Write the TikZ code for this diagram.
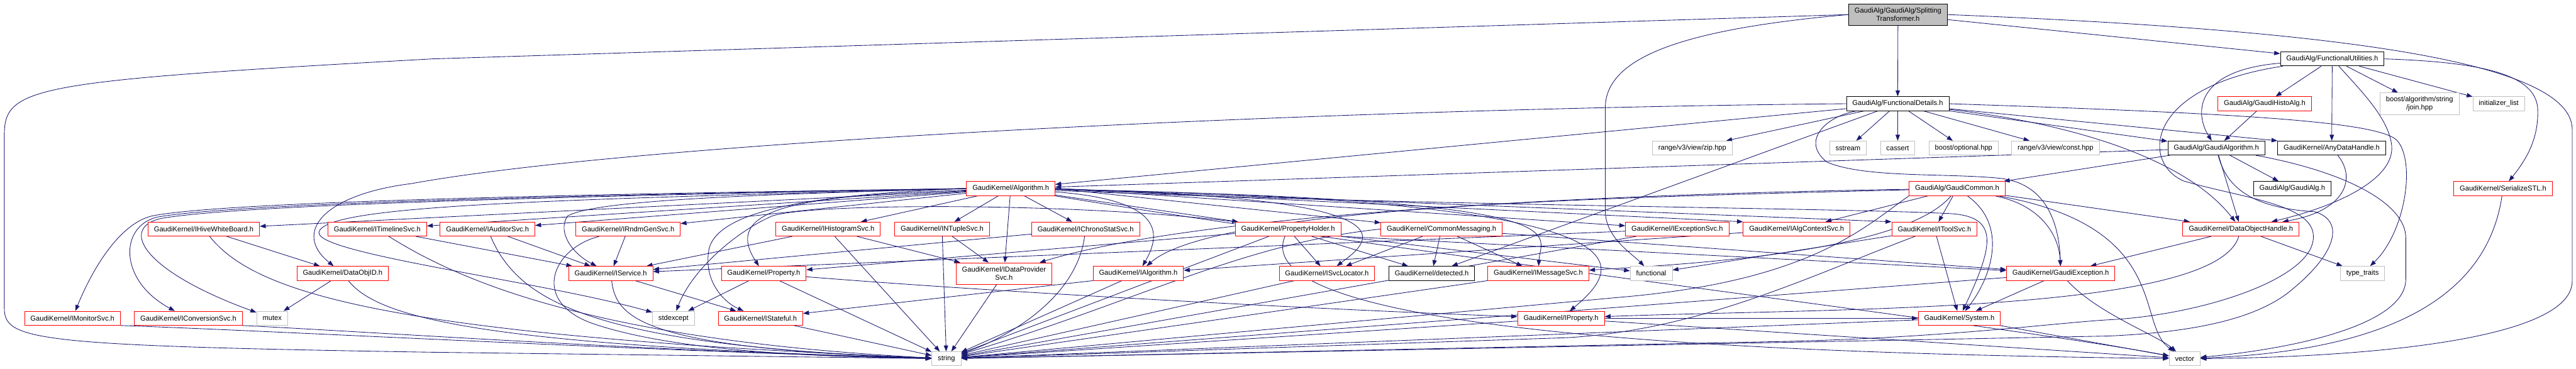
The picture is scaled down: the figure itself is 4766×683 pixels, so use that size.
\documentclass[tikz,border=0pt]{standalone}
\usepackage{fontspec}
\setmainfont{Liberation Sans}
\usepackage{xcolor}
\usepackage{tikz}
\usetikzlibrary{arrows.meta,backgrounds}

\definecolor{edgeblue}{HTML}{191970}
\definecolor{lightgrey}{HTML}{BFBFBF}

\begin{document}
\begin{tikzpicture}[
    x=1pt,
    y=-1pt,
    file/.style={
        rectangle,
        draw=red,
        fill=white,
        line width=1pt,
        inner xsep=11pt,
        inner ysep=0pt,
        minimum height=26pt,
        align=center,
        font=\fontsize{13}{15}\selectfont
    },
    sysfile/.style={file, draw=lightgrey},
    donefile/.style={file, draw=black},
    twoline/.style={minimum height=40pt},
    incl/.style={
        draw=edgeblue,
        line width=1pt,
        -{Triangle[length=11pt,width=8pt]}
    }
]
    \useasboundingbox (0,0) rectangle (4766,683);

    \node[donefile, twoline, fill=lightgrey] (st) at (3511.5,27) {GaudiAlg/GaudiAlg/Splitting\\Transformer.h};
    \node[donefile] (fu) at (4315,109) {GaudiAlg/FunctionalUtilities.h};
    \node[donefile] (fd) at (3511,192) {GaudiAlg/FunctionalDetails.h};
    \node[file] (histoalg) at (4190,192) {GaudiAlg/GaudiHistoAlg.h};
    \node[sysfile, twoline] (join) at (4476.5,192) {boost/algorithm/string\\/join.hpp};
    \node[sysfile] (initlist) at (4623,192) {initializer\_list};
    \node[sysfile] (zip) at (3131,274) {range/v3/view/zip.hpp};
    \node[sysfile] (sstream) at (3419,274) {sstream};
    \node[sysfile] (cassert) at (3511,274) {cassert};
    \node[sysfile] (optional) at (3633,274) {boost/optional.hpp};
    \node[sysfile] (constv) at (3803,274) {range/v3/view/const.hpp};
    \node[donefile] (gaudialgo) at (4100.5,274) {GaudiAlg/GaudiAlgorithm.h};
    \node[donefile] (anydh) at (4314,274) {GaudiKernel/AnyDataHandle.h};
    \node[file] (algorithm) at (1870,349) {GaudiKernel/Algorithm.h};
    \node[file] (common) at (3621,349) {GaudiAlg/GaudiCommon.h};
    \node[donefile] (gaudialg) at (4241,349) {GaudiAlg/GaudiAlg.h};
    \node[file] (serialize) at (4631,349) {GaudiKernel/SerializeSTL.h};
    \node[file] (hive) at (377,424) {GaudiKernel/IHiveWhiteBoard.h};
    \node[file] (timeline) at (698,424) {GaudiKernel/ITimelineSvc.h};
    \node[file] (auditor) at (902,424) {GaudiKernel/IAuditorSvc.h};
    \node[file] (rndm) at (1162,424) {GaudiKernel/IRndmGenSvc.h};
    \node[file] (histo) at (1532,424) {GaudiKernel/IHistogramSvc.h};
    \node[file] (ntuple) at (1743,424) {GaudiKernel/INTupleSvc.h};
    \node[file] (chrono) at (2008.5,424) {GaudiKernel/IChronoStatSvc.h};
    \node[file] (propholder) at (2383,424) {GaudiKernel/PropertyHolder.h};
    \node[file] (commonmsg) at (2667,424) {GaudiKernel/CommonMessaging.h};
    \node[file] (exception) at (3103,424) {GaudiKernel/IExceptionSvc.h};
    \node[file] (algctx) at (3324,424) {GaudiKernel/IAlgContextSvc.h};
    \node[file] (toolsvc) at (3579,424) {GaudiKernel/IToolSvc.h};
    \node[file] (dohandle) at (4146,424) {GaudiKernel/DataObjectHandle.h};
    \node[file] (dataobjid) at (634,506) {GaudiKernel/DataObjID.h};
    \node[file] (service) at (1130,506) {GaudiKernel/IService.h};
    \node[file] (property) at (1413,506) {GaudiKernel/Property.h};
    \node[file, twoline] (dataprov) at (1857.5,506.5) {GaudiKernel/IDataProvider\\Svc.h};
    \node[file] (ialgorithm) at (2106,506) {GaudiKernel/IAlgorithm.h};
    \node[file] (svcloc) at (2455,506) {GaudiKernel/ISvcLocator.h};
    \node[donefile] (detected) at (2649,506) {GaudiKernel/detected.h};
    \node[file] (msgsvc) at (2846,506) {GaudiKernel/IMessageSvc.h};
    \node[sysfile] (functional) at (3055,506) {functional};
    \node[file] (gexception) at (3812.6,506) {GaudiKernel/GaudiException.h};
    \node[sysfile] (typetraits) at (4371,506) {type\_traits};
    \node[file] (monitor) at (134,589) {GaudiKernel/IMonitorSvc.h};
    \node[file] (conversion) at (348.5,589) {GaudiKernel/IConversionSvc.h};
    \node[sysfile] (mutex) at (503.5,589) {mutex};
    \node[sysfile] (stdexcept) at (1246,589) {stdexcept};
    \node[file] (stateful) at (1407,589) {GaudiKernel/IStateful.h};
    \node[file] (iproperty) at (2888,589) {GaudiKernel/IProperty.h};
    \node[file] (system) at (3625,589) {GaudiKernel/System.h};
    \node[sysfile] (string) at (1751,664) {string};
    \node[sysfile] (vector) at (4042,664) {vector};

    \begin{pgfonlayer}{background}
    \draw[incl] (st) -- (fd);
    \draw[incl] (st) -- (fu);
    \draw[incl] (st.west) .. controls (3100,55) and (2970,110) .. (2970,200) -- (2970,390) .. controls (2970,440) and (3020,470) .. (functional);
    \draw[incl] (st.west) -- (800,109) .. controls (60,150) and (8,160) .. (8,250) -- (8,570) .. controls (8,630) and (60,640) .. (800,652) -- (string);
    \draw[incl] (st.east) .. controls (4300,55) and (4759,110) .. (4759,240) -- (4759,520) .. controls (4759,640) and (4300,662) .. (vector);

    \draw[incl] (fd) -- (sstream);
    \draw[incl] (fd) -- (cassert);
    \draw[incl] (fd) -- (optional);
    \draw[incl] (fd) -- (constv);
    \draw[incl] (fd) -- (zip);
    \draw[incl] (fd) -- (gaudialgo);
    \draw[incl] (fd) -- (anydh.north west);
    \draw[incl] (fd) -- (algorithm);
    \draw[incl] (fd) -- (detected);
    \draw[incl] (fd) .. controls (3380,215) and (3330,260) .. (3380,300) .. controls (3450,330) and (3600,320) .. (3700,330) .. controls (3790,340) and (3810,420) .. (gexception);
    \draw[incl] (fd.west) .. controls (2500,200) and (1200,260) .. (760,340) .. controls (600,360) and (540,430) .. (dataobjid);
    \draw[incl] (fd) .. controls (3850,230) and (4050,300) .. (dohandle);
    \draw[incl] (fd.east) .. controls (4150,210) and (4400,225) .. (4435,260) .. controls (4470,300) and (4450,430) .. (typetraits);

    \draw[incl] (fu) -- (histoalg);
    \draw[incl] (fu) -- (anydh);
    \draw[incl] (fu) -- (join);
    \draw[incl] (fu) -- (initlist);
    \draw[incl] (fu.east) .. controls (4600,115) and (4690,140) .. (4695,200) .. controls (4698,260) and (4670,300) .. (serialize);
    \draw[incl] (fu) .. controls (4370,170) and (4420,220) .. (4425,270) .. controls (4430,330) and (4330,380) .. (dohandle);
    \draw[incl] (fu) .. controls (4060,130) and (4060,210) .. (gaudialgo);
    \draw[incl] (fu) .. controls (3970,160) and (3960,300) .. (4040,335) .. controls (4160,370) and (4310,380) .. (4275,460) .. controls (4240,530) and (4050,585) .. (3900,592) .. controls (3800,598) and (3600,625) .. (3300,632) -- (string);

    \draw[incl] (histoalg) -- (gaudialgo);
    \draw[incl] (gaudialgo) -- (common);
    \draw[incl] (gaudialgo) -- (algorithm);
    \draw[incl] (gaudialgo) -- (gaudialg);
    \draw[incl] (gaudialgo) -- (dohandle);
    \draw[incl] (gaudialgo) .. controls (4120,350) and (4170,385) .. (4283,392) .. controls (4340,410) and (4320,470) .. (4244,533) .. controls (4180,590) and (4060,615) .. (3900,622) -- (string);
    \draw[incl] (gaudialgo) .. controls (4350,320) and (4451,380) .. (4451,440) -- (4451,517) .. controls (4451,600) and (4250,645) .. (vector);
    \draw[incl] (anydh) .. controls (4360,330) and (4340,390) .. (dohandle);

    \draw[incl] (common) -- (algctx);
    \draw[incl] (common) -- (toolsvc);
    \draw[incl] (common) -- (dohandle);
    \draw[incl] (common) .. controls (3720,420) and (3680,520) .. (system);
    \draw[incl] (common) .. controls (3780,380) and (3810,440) .. (gexception);
    \draw[incl] (common) .. controls (3520,470) and (3100,490) .. (msgsvc);
    \draw[incl] (common) .. controls (3000,365) and (2250,380) .. (ialgorithm);
    \draw[incl] (common) .. controls (2900,360) and (2200,400) .. (dataprov);
    \draw[incl] (common) .. controls (4020,420) and (3950,600) .. (vector);
    \draw[incl] (common.south west) .. controls (3450,420) and (3350,520) .. (3000,550) -- (string);

    \draw[incl] (algorithm) -- (hive);
    \draw[incl] (algorithm) -- (timeline);
    \draw[incl] (algorithm) -- (auditor);
    \draw[incl] (algorithm) -- (rndm);
    \draw[incl] (algorithm) -- (histo);
    \draw[incl] (algorithm) -- (ntuple);
    \draw[incl] (algorithm) -- (chrono);
    \draw[incl] (algorithm) -- (propholder);
    \draw[incl] (algorithm.east) -- (commonmsg);
    \draw[incl] (algorithm.east) -- (exception);
    \draw[incl] (algorithm.east) -- (algctx.north west);
    \draw[incl] (algorithm.east) -- (toolsvc.north west);
    \draw[incl] (algorithm) -- (dataprov);
    \draw[incl] (algorithm.west) .. controls (1000,360) and (400,375) .. (280,400) .. controls (220,415) and (170,500) .. (monitor);
    \draw[incl] (algorithm.west) .. controls (1000,362) and (420,378) .. (290,402) .. controls (220,420) and (220,520) .. (conversion);
    \draw[incl] (algorithm.west) .. controls (1000,364) and (440,380) .. (300,404) .. controls (220,420) and (260,500) .. (mutex);
    \draw[incl] (algorithm.west) .. controls (1000,370) and (600,380) .. (590,430) .. controls (585,470) and (1000,520) .. (stdexcept);
    \draw[incl] (algorithm.west) .. controls (1400,360) and (1100,370) .. (1050,400) .. controls (1030,430) and (1060,470) .. (service);
    \draw[incl] (algorithm) .. controls (1500,362) and (1330,380) .. (property);
    \draw[incl] (algorithm.west) .. controls (1500,360) and (1330,390) .. (1312,460) .. controls (1300,520) and (1340,560) .. (stateful);
    \draw[incl] (algorithm) .. controls (2150,370) and (2150,430) .. (ialgorithm);
    \draw[incl] (algorithm) .. controls (2650,365) and (2530,450) .. (svcloc);
    \draw[incl] (algorithm) .. controls (2950,370) and (2850,430) .. (msgsvc);
    \draw[incl] (algorithm) .. controls (3050,370) and (3020,480) .. (iproperty);
    \draw[incl] (algorithm) .. controls (2600,380) and (3400,385) .. (3600,395) .. controls (3700,398) and (3690,450) .. (system);
    \draw[incl] (algorithm) .. controls (2600,470) and (3700,600) .. (vector);

    \draw[incl] (hive) -- (dataobjid);
    \draw[incl] (hive) .. controls (470,540) and (700,620) .. (string);
    \draw[incl] (timeline) -- (service);
    \draw[incl] (timeline) .. controls (850,520) and (1100,630) .. (string);
    \draw[incl] (auditor) -- (service);
    \draw[incl] (auditor) .. controls (960,560) and (1100,640) .. (string);
    \draw[incl] (rndm) -- (service);
    \draw[incl] (rndm) .. controls (1020,460) and (980,560) .. (1100,600) .. controls (1250,650) and (1500,660) .. (string);
    \draw[incl] (histo) -- (service);
    \draw[incl] (histo) -- (dataprov);
    \draw[incl] (histo) -- (string);
    \draw[incl] (ntuple) -- (dataprov);
    \draw[incl] (ntuple) -- (string);
    \draw[incl] (chrono) -- (service);
    \draw[incl] (chrono) .. controls (1990,560) and (1850,630) .. (string);

    \draw[incl] (propholder) -- (svcloc);
    \draw[incl] (propholder) -- (detected);
    \draw[incl] (propholder.south east) -- (functional);
    \draw[incl] (propholder) -- (property);
    \draw[incl] (propholder.south east) -- (gexception);
    \draw[incl] (propholder) -- (string);
    \draw[incl] (propholder.north west) .. controls (2000,375) and (1500,375) .. (1428,400) .. controls (1360,430) and (1280,500) .. (stdexcept);
    \draw[incl] (propholder) .. controls (2300,620) and (3300,655) .. (vector);
    \draw[incl] (commonmsg) -- (svcloc);
    \draw[incl] (commonmsg) -- (detected);
    \draw[incl] (commonmsg) -- (msgsvc);
    \draw[incl] (commonmsg) -- (gexception);
    \draw[incl] (commonmsg.west) .. controls (2300,450) and (2100,560) .. (string);
    \draw[incl] (exception) -- (service);
    \draw[incl] (exception) -- (string);
    \draw[incl] (algctx) -- (ialgorithm);
    \draw[incl] (toolsvc) -- (system);
    \draw[incl] (toolsvc) -- (functional);
    \draw[incl] (toolsvc) .. controls (3350,510) and (3150,610) .. (2900,625) -- (string);
    \draw[incl] (dohandle) -- (typetraits);
    \draw[incl] (dohandle) -- (gexception);
    \draw[incl] (dohandle) .. controls (4100,580) and (3400,570) .. (iproperty);

    \draw[incl] (dataobjid) -- (mutex);
    \draw[incl] (dataobjid) .. controls (700,590) and (900,640) .. (string);
    \draw[incl] (service) -- (stateful);
    \draw[incl] (service) .. controls (1140,590) and (1190,645) .. (string);
    \draw[incl] (property) -- (stdexcept);
    \draw[incl] (property) -- (string);
    \draw[incl] (property) .. controls (1900,545) and (2500,575) .. (iproperty);
    \draw[incl] (dataprov) -- (string);
    \draw[incl] (ialgorithm.south west) -- (stateful);
    \draw[incl] (ialgorithm) -- (string);
    \draw[incl] (svcloc) -- (string);
    \draw[incl] (msgsvc) -- (string);
    \draw[incl] (gexception) -- (system);
    \draw[incl] (gexception) -- (string);
    \draw[incl] (gexception) .. controls (3880,580) and (3990,620) .. (vector);
    \draw[incl] (serialize) .. controls (4600,560) and (4400,650) .. (vector);

    \draw[incl] (monitor.south east) .. controls (500,612) and (1200,650) .. (string);
    \draw[incl] (conversion.south east) .. controls (700,615) and (1200,650) .. (string);
    \draw[incl] (stateful) -- (string);
    \draw[incl] (iproperty) -- (system);
    \draw[incl] (iproperty) -- (string);
    \draw[incl] (iproperty) -- (vector);
    \draw[incl] (system) -- (string);
    \draw[incl] (system) -- (vector);
    \end{pgfonlayer}
\end{tikzpicture}
\end{document}
